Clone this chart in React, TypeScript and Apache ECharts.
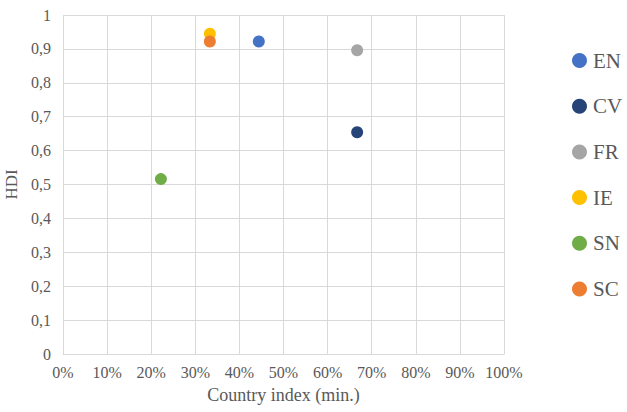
import React, { useEffect, useRef } from "react";
import * as echarts from "echarts";

const names = ["EN", "CV", "FR", "IE", "SN", "SC"];
const colors = ["#4472C4", "#264478", "#A5A5A5", "#FFC000", "#70AD47", "#ED7D31"];
const countryIndex = [0.444, 0.667, 0.667, 0.333, 0.222, 0.333];
const hdi = [0.922, 0.654, 0.896, 0.945, 0.516, 0.922];

const FONT = "Liberation Serif";
const TXT = "#595959";

export default function App() {
  const ref = useRef<HTMLDivElement>(null);
  useEffect(() => {
    const chart = echarts.init(ref.current!, null, { renderer: "svg" });
    chart.setOption({
      animation: false,
      textStyle: { fontFamily: FONT },
      grid: { left: 63, right: 123, top: 15, bottom: 58, outerBoundsMode: "none", containLabel: false },
      legend: {
        orient: "vertical",
        left: 567,
        top: 45,
        icon: "circle",
        itemWidth: 15,
        itemHeight: 15,
        itemGap: 24.7,
        textStyle: { fontFamily: FONT, fontSize: 21, color: TXT, padding: [0, 0, 0, 1] },
        data: names,
      },
      xAxis: {
        type: "value",
        min: 0,
        max: 1,
        interval: 0.1,
        name: "Country index (min.)",
        nameLocation: "middle",
        nameGap: 32,
        nameTextStyle: { fontFamily: FONT, fontSize: 18, color: TXT },
        axisLine: { show: true, lineStyle: { color: "#D9D9D9", width: 1 } },
        axisTick: { show: false },
        axisLabel: {
          margin: 10,
          fontFamily: FONT,
          fontSize: 16,
          color: TXT,
          formatter: (v: number) => Math.round(v * 100) + "%",
        },
        splitLine: { show: true, lineStyle: { color: "#D9D9D9", width: 1 } },
      },
      yAxis: {
        type: "value",
        min: 0,
        max: 1,
        interval: 0.1,
        name: "HDI",
        nameLocation: "middle",
        nameGap: 33,
        nameTextStyle: { fontFamily: FONT, fontSize: 17, color: TXT },
        axisLine: { show: false },
        axisTick: { show: false },
        axisLabel: {
          margin: 12,
          fontFamily: FONT,
          fontSize: 16,
          color: TXT,
          formatter: (v: number) => {
            const r = Math.round(v * 10) / 10;
            if (r === 0) return "0";
            if (r === 1) return "1";
            return r.toFixed(1).replace(".", ",");
          },
        },
        splitLine: { show: true, lineStyle: { color: "#D9D9D9", width: 1 } },
      },
      series: names.map((n, i) => ({
        name: n,
        type: "scatter",
        symbol: "circle",
        symbolSize: 12,
        itemStyle: { color: colors[i], opacity: 1 },
        data: [[countryIndex[i], hdi[i]]],
      })),
    });
    return () => chart.dispose();
  }, []);
  return (
    <div
      ref={ref}
      style={{ position: "fixed", left: 0, top: 0, width: 627, height: 412, background: "#fff" }}
    />
  );
}
